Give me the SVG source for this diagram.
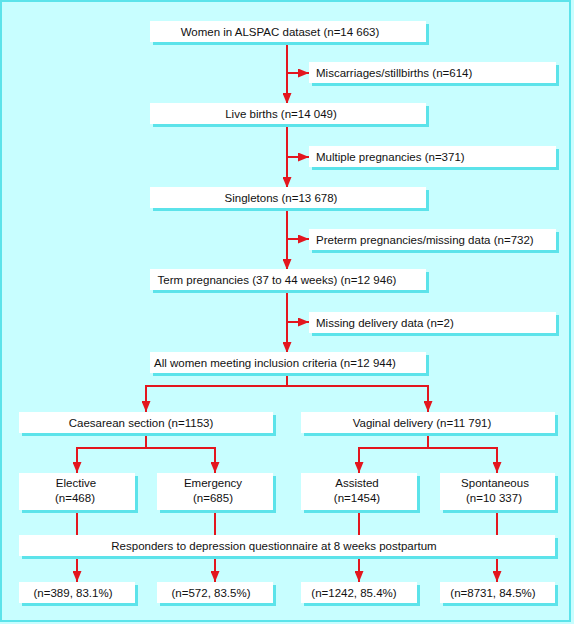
<svg xmlns="http://www.w3.org/2000/svg" width="574" height="624" viewBox="0 0 574 624">
<style>
.bg{fill:#c8feff}
.frame{fill:none;stroke:#5ce3ea;stroke-width:2}
.sh{fill:#5ce3ea}
.bx{fill:#ffffff}
text{font-family:"Liberation Sans",Arial,Helvetica,sans-serif;font-size:11.5px;fill:#111}
.c{text-anchor:middle}
.ln{fill:none;stroke:#e3161e;stroke-width:2}
.ar{marker-end:url(#ah)}
</style>
<defs>
<marker id="ah" markerUnits="userSpaceOnUse" markerWidth="11" markerHeight="9" refX="11" refY="4.5" orient="auto" viewBox="0 0 11 9">
<path d="M0,0 L11,4.5 L0,9 z" fill="#e3161e"/>
</marker>
</defs>
<rect class="bg" x="0" y="0" width="574" height="624"/>
<rect class="frame" x="1" y="1" width="569" height="620"/>

<g id="connectors">
<line class="ln ar" x1="287" y1="42" x2="287" y2="104"/>
<line class="ln ar" x1="287" y1="73" x2="309" y2="73"/>
<line class="ln ar" x1="287" y1="124" x2="287" y2="188"/>
<line class="ln ar" x1="287" y1="157" x2="309" y2="157"/>
<line class="ln ar" x1="287" y1="208" x2="287" y2="270"/>
<line class="ln ar" x1="287" y1="239" x2="309" y2="239"/>
<line class="ln ar" x1="287" y1="290" x2="287" y2="353"/>
<line class="ln ar" x1="287" y1="322" x2="309" y2="322"/>
<polyline class="ln" points="287,373 287,386"/>
<polyline class="ln ar" points="287,386 146,386 146,412"/>
<polyline class="ln ar" points="287,386 428,386 428,412"/>
<polyline class="ln" points="146,433 146,448"/>
<polyline class="ln ar" points="146,448 77,448 77,473"/>
<polyline class="ln ar" points="146,448 215,448 215,473"/>
<polyline class="ln" points="428,433 428,448"/>
<polyline class="ln ar" points="428,448 359,448 359,473"/>
<polyline class="ln ar" points="428,448 497,448 497,473"/>
<line class="ln" x1="77" y1="510" x2="77" y2="535"/>
<line class="ln" x1="215" y1="510" x2="215" y2="535"/>
<line class="ln" x1="359" y1="510" x2="359" y2="535"/>
<line class="ln" x1="497" y1="510" x2="497" y2="535"/>
<line class="ln ar" x1="77" y1="559" x2="77" y2="582"/>
<line class="ln ar" x1="215" y1="559" x2="215" y2="582"/>
<line class="ln ar" x1="359" y1="559" x2="359" y2="582"/>
<line class="ln ar" x1="497" y1="559" x2="497" y2="582"/>
</g>

<g id="n_women">
<rect class="sh" x="153" y="24" width="276" height="21"/>
<rect class="bx" x="150" y="21" width="276" height="21"/>
<text class="c" x="280" y="36">Women in ALSPAC dataset (n=14 663)</text>
</g>
<g id="n_miscarriages">
<rect class="sh" x="312" y="65" width="247" height="21"/>
<rect class="bx" x="309" y="62" width="247" height="21"/>
<text x="316" y="77">Miscarriages/stillbirths (n=614)</text>
</g>
<g id="n_live">
<rect class="sh" x="153" y="106" width="276" height="21"/>
<rect class="bx" x="150" y="103" width="276" height="21"/>
<text class="c" x="281" y="118">Live births (n=14 049)</text>
</g>
<g id="n_multiple">
<rect class="sh" x="312" y="149" width="247" height="21"/>
<rect class="bx" x="309" y="146" width="247" height="21"/>
<text x="316" y="161">Multiple pregnancies (n=371)</text>
</g>
<g id="n_singletons">
<rect class="sh" x="153" y="190" width="276" height="21"/>
<rect class="bx" x="150" y="187" width="276" height="21"/>
<text class="c" x="281" y="202">Singletons (n=13 678)</text>
</g>
<g id="n_preterm">
<rect class="sh" x="312" y="232" width="247" height="21"/>
<rect class="bx" x="309" y="229" width="247" height="21"/>
<text x="316" y="244">Preterm pregnancies/missing data (n=732)</text>
</g>
<g id="n_term">
<rect class="sh" x="153" y="272" width="276" height="21"/>
<rect class="bx" x="150" y="269" width="276" height="21"/>
<text class="c" x="277" y="284">Term pregnancies (37 to 44 weeks) (n=12 946)</text>
</g>
<g id="n_missing">
<rect class="sh" x="312" y="315" width="247" height="21"/>
<rect class="bx" x="309" y="312" width="247" height="21"/>
<text x="316" y="327">Missing delivery data (n=2)</text>
</g>
<g id="n_all">
<rect class="sh" x="153" y="355" width="276" height="21"/>
<rect class="bx" x="150" y="352" width="276" height="21"/>
<text class="c" x="275" y="367">All women meeting inclusion criteria (n=12 944)</text>
</g>
<g id="n_caesarean">
<rect class="sh" x="22" y="415" width="254" height="21"/>
<rect class="bx" x="19" y="412" width="254" height="21"/>
<text class="c" x="141" y="427">Caesarean section (n=1153)</text>
</g>
<g id="n_vaginal">
<rect class="sh" x="304" y="415" width="254" height="21"/>
<rect class="bx" x="301" y="412" width="254" height="21"/>
<text class="c" x="422" y="427">Vaginal delivery (n=11 791)</text>
</g>
<g id="n_elective">
<rect class="sh" x="22" y="476" width="116" height="37"/>
<rect class="bx" x="19" y="473" width="116" height="37"/>
<text class="c" x="76" y="487">Elective</text>
<text class="c" x="75" y="502">(n=468)</text>
</g>
<g id="n_emergency">
<rect class="sh" x="160" y="476" width="116" height="37"/>
<rect class="bx" x="157" y="473" width="116" height="37"/>
<text class="c" x="213" y="487">Emergency</text>
<text class="c" x="213" y="502">(n=685)</text>
</g>
<g id="n_assisted">
<rect class="sh" x="304" y="476" width="116" height="37"/>
<rect class="bx" x="301" y="473" width="116" height="37"/>
<text class="c" x="357" y="487">Assisted</text>
<text class="c" x="357" y="502">(n=1454)</text>
</g>
<g id="n_spontaneous">
<rect class="sh" x="443" y="476" width="115" height="37"/>
<rect class="bx" x="440" y="473" width="115" height="37"/>
<text class="c" x="495" y="487">Spontaneous</text>
<text class="c" x="494" y="502">(n=10 337)</text>
</g>
<g id="n_responders">
<rect class="sh" x="22" y="538" width="536" height="21"/>
<rect class="bx" x="19" y="535" width="536" height="21"/>
<text class="c" x="274" y="550">Responders to depression questionnaire at 8 weeks postpartum</text>
</g>
<g id="n_r_elective">
<rect class="sh" x="22" y="585" width="116" height="21"/>
<rect class="bx" x="19" y="582" width="116" height="21"/>
<text class="c" x="73" y="597">(n=389, 83.1%)</text>
</g>
<g id="n_r_emergency">
<rect class="sh" x="160" y="585" width="116" height="21"/>
<rect class="bx" x="157" y="582" width="116" height="21"/>
<text class="c" x="211" y="597">(n=572, 83.5%)</text>
</g>
<g id="n_r_assisted">
<rect class="sh" x="304" y="585" width="116" height="21"/>
<rect class="bx" x="301" y="582" width="116" height="21"/>
<text class="c" x="354" y="597">(n=1242, 85.4%)</text>
</g>
<g id="n_r_spontaneous">
<rect class="sh" x="443" y="585" width="115" height="21"/>
<rect class="bx" x="440" y="582" width="115" height="21"/>
<text class="c" x="493" y="597">(n=8731, 84.5%)</text>
</g>
</svg>
